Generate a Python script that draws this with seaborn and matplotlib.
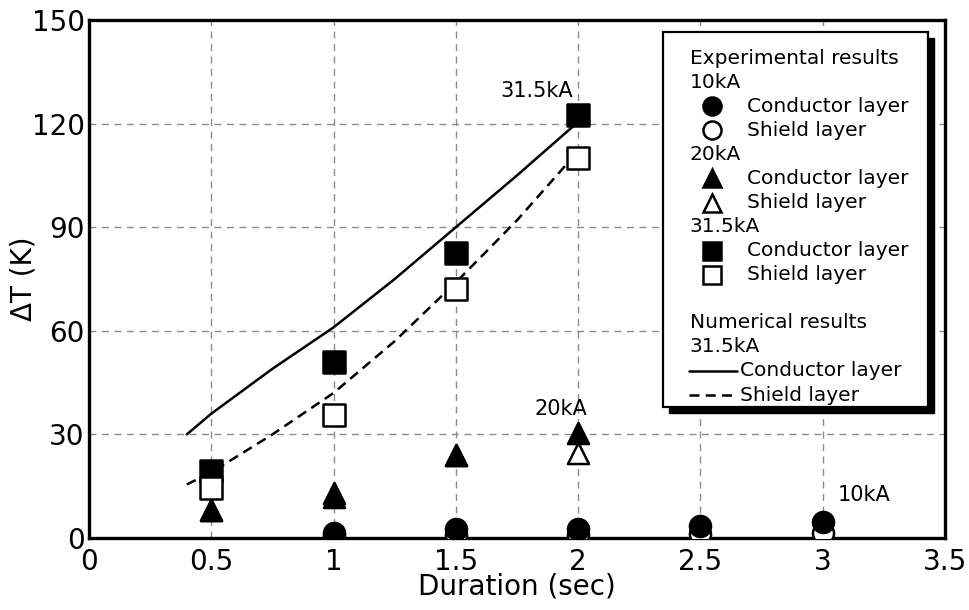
import matplotlib
matplotlib.use("Agg")
import matplotlib.pyplot as plt
from matplotlib.patches import Rectangle
from matplotlib.lines import Line2D
import seaborn as sns
import pandas as pd

# experimental results (duration in sec, delta T in K)
dur_10 = [1.0, 1.5, 2.0, 2.5, 3.0]
cond_10 = [1.5, 2.5, 2.5, 3.5, 4.5]
shield_10 = [0.5, 1.0, 1.0, 1.2, 1.5]

dur_20 = [0.5, 1.0, 1.5, 2.0]
cond_20 = [8.0, 12.0, 24.0, 30.5]
shield_20 = [8.0, 13.0, 24.0, 24.5]

dur_315 = [0.5, 1.0, 1.5, 2.0]
cond_315 = [19.5, 51.0, 82.5, 122.5]
shield_315 = [14.5, 35.5, 72.0, 110.0]

# numerical results 31.5kA
num_dur = [0.4, 0.5, 0.75, 1.0, 1.25, 1.5, 1.75, 2.0]
num_cond = [30.0, 36.0, 49.0, 61.0, 75.0, 90.0, 105.0, 120.5]
num_shield = [15.5, 19.0, 30.0, 42.0, 57.0, 74.0, 92.0, 112.0]

x_ticks = [0, 0.5, 1, 1.5, 2, 2.5, 3, 3.5]
x_labels = ["0", "0.5", "1", "1.5", "2", "2.5", "3", "3.5"]
y_ticks = [0, 30, 60, 90, 120, 150]

sns.set_style("white")
plt.rcParams["font.family"] = ["DejaVu Sans"]
for key in ["text.color", "axes.labelcolor", "xtick.color", "ytick.color"]:
    plt.rcParams[key] = "black"

fig = plt.figure(figsize=(9.69, 6.10), dpi=100)
ax = fig.add_axes([0.0918, 0.118, 0.8833, 0.849])

# numerical lines
num = pd.DataFrame({"d": num_dur, "c": num_cond, "s": num_shield})
sns.lineplot(data=num, x="d", y="c", color="black", lw=1.8, ax=ax)
sns.lineplot(data=num, x="d", y="s", color="black", lw=1.8, ax=ax,
             linestyle=(0, (4, 2.5)))

ms = 230
ew = 1.8
series = [
    (dur_10, shield_10, "o", "white"),
    (dur_10, cond_10, "o", "black"),
    (dur_20, shield_20, "^", "white"),
    (dur_20, cond_20, "^", "black"),
    (dur_315, cond_315, "s", "black"),
    (dur_315, shield_315, "s", "white"),
]
for xs, ys, mk, fc in series:
    sns.scatterplot(x=xs, y=ys, marker=mk, s=ms, color=fc, edgecolor="black",
                    linewidth=ew, ax=ax, zorder=3)

ax.text(1.83, 129.5, "31.5kA", fontsize=15, ha="center", va="center")
ax.text(1.93, 37.5, "20kA", fontsize=15, ha="center", va="center")
ax.text(3.17, 12.5, "10kA", fontsize=15, ha="center", va="center")

ax.set_xlim(0, 3.5)
ax.set_ylim(0, 150)
ax.set_xticks(x_ticks)
ax.set_xticklabels(x_labels)
ax.set_yticks(y_ticks)
ax.tick_params(length=0, labelsize=20)
ax.tick_params(axis="x", pad=7)
ax.tick_params(axis="y", pad=3)
ax.grid(True, color="#8c8c8c", linestyle=(0, (5, 4)), lw=1.0)
for sp in ax.spines.values():
    sp.set_color("black")
    sp.set_linewidth(2.4)
ax.set_xlabel("Duration (sec)", fontsize=20, labelpad=-2)
ax.set_ylabel("\u0394T (K)", fontsize=20)
ax.yaxis.set_label_coords(-0.06, 0.5)

# legend box drawn by hand so the group headers sit left of the entries
def px(x):
    return (x - 89) / 856.0

def py(y):
    return (538 - y) / 518.0

bx0, bx1, by0, by1 = px(663), px(928), py(407), py(32)
shadow = Rectangle((bx0 + 6 / 856, by0 - 6 / 518), bx1 - bx0, by1 - by0,
                   transform=ax.transAxes, facecolor="black", edgecolor="black",
                   zorder=5, clip_on=False)
box = Rectangle((bx0, by0), bx1 - bx0, by1 - by0, transform=ax.transAxes,
                facecolor="white", edgecolor="black", lw=1.6, zorder=6,
                clip_on=False)
ax.add_patch(shadow)
ax.add_patch(box)

rows = [
    ("head", "Experimental results", None),
    ("head", "10kA", None),
    ("mark", "Conductor layer", ("o", "black")),
    ("mark", "Shield layer", ("o", "white")),
    ("head", "20kA", None),
    ("mark", "Conductor layer", ("^", "black")),
    ("mark", "Shield layer", ("^", "white")),
    ("head", "31.5kA", None),
    ("mark", "Conductor layer", ("s", "black")),
    ("mark", "Shield layer", ("s", "white")),
    ("blank", "", None),
    ("head", "Numerical results", None),
    ("head", "31.5kA", None),
    ("line", "Conductor layer", "-"),
    ("line", "Shield layer", (0, (4, 2.5))),
]
y_top, step = 58, 24.07
fs_leg = 14.5
for i, (kind, label, h) in enumerate(rows):
    yy = py(y_top + i * step)
    if kind == "head":
        ax.text(px(690), yy, label, fontsize=fs_leg, ha="left", va="center",
                transform=ax.transAxes, zorder=7)
    elif kind == "mark":
        ax.add_line(Line2D([px(712)], [yy], marker=h[0], markersize=13,
                           markerfacecolor=h[1], markeredgecolor="black",
                           markeredgewidth=1.8, linestyle="none",
                           transform=ax.transAxes, zorder=7, clip_on=False))
        ax.text(px(747), yy, label, fontsize=fs_leg, ha="left", va="center",
                transform=ax.transAxes, zorder=7)
    elif kind == "line":
        ax.add_line(Line2D([px(689), px(737)], [yy, yy], color="black", lw=1.8,
                           linestyle=h, transform=ax.transAxes, zorder=7,
                           clip_on=False))
        ax.text(px(740), yy, label, fontsize=fs_leg, ha="left", va="center",
                transform=ax.transAxes, zorder=7)

fig.savefig("out.png", dpi=100)
